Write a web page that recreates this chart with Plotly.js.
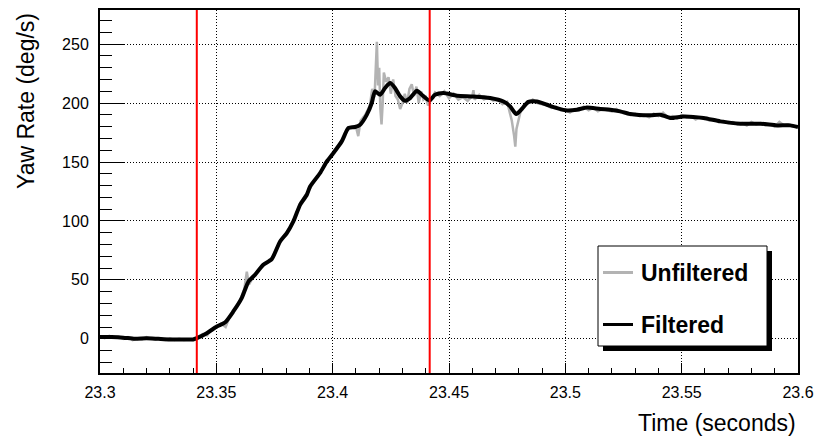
<!DOCTYPE html>
<html>
<head>
<meta charset="utf-8">
<script src="https://cdn.plot.ly/plotly-3.0.1.min.js"></script>
<style>html,body{margin:0;padding:0;background:#fff}#chart{width:815px;height:441px}</style>
</head>
<body>
<div id="chart"></div>
<script>
// ---- Data ----
var filteredTime = [23.300, 23.305, 23.310, 23.315, 23.320, 23.325, 23.330, 23.335, 23.340, 23.3416,
  23.3459, 23.3502, 23.3537, 23.3573, 23.3609, 23.3638, 23.3666, 23.3702, 23.3738, 23.3774,
  23.3803, 23.3831, 23.3860, 23.3889, 23.3903, 23.3946, 23.3975, 23.4003, 23.4039, 23.4068,
  23.4096, 23.4118, 23.4147, 23.4168, 23.4182, 23.4204, 23.4225, 23.4247, 23.4268, 23.4290,
  23.4311, 23.4333, 23.4362, 23.4383, 23.4416, 23.4440, 23.4476, 23.4534, 23.4605, 23.4677,
  23.4734, 23.4763, 23.4789, 23.4813, 23.4841, 23.4878, 23.4921, 23.4964, 23.5007, 23.5050,
  23.5093, 23.5150, 23.5193, 23.5236, 23.5279, 23.5365, 23.5408, 23.5451, 23.5508, 23.5594,
  23.5666, 23.5752, 23.5838, 23.5909, 23.5967, 23.6000];
var filteredRate = [1.5, 1.5, 1, 0, 0.5, 0, -0.5, -0.5, -0.5, 0.6,
  4.8, 10.4, 13.8, 23.2, 34.5, 48.6, 54.3, 62.8, 67.6, 82.6,
  89.7, 99.6, 113.7, 122.2, 129.3, 140.7, 150.5, 157.6, 167.5, 178.9,
  179.7, 181.7, 190.2, 200.1, 210, 207.1, 212.8, 217, 212.8, 205.7,
  202, 204.3, 210.5, 207.1, 202.3, 207.1, 208.6, 206.3, 205.7, 204.3,
  201.4, 197.2, 190.7, 195, 201, 201.4, 198.6, 195.8, 193.8, 194.4,
  196.3, 195, 194.4, 193, 190.7, 189.6, 190.2, 187.4, 188.7, 187.4,
  184.5, 182.5, 182.5, 181.1, 181.1, 179.7];

var unfilteredTime = [23.300, 23.302, 23.304, 23.306, 23.308, 23.310, 23.312, 23.314, 23.316, 23.318,
  23.320, 23.322, 23.324, 23.326, 23.328, 23.330, 23.332, 23.334, 23.336, 23.338,
  23.340, 23.342, 23.344, 23.346, 23.348, 23.350, 23.352, 23.354, 23.356, 23.358,
  23.360, 23.362, 23.3631, 23.364, 23.366, 23.368, 23.370, 23.372, 23.374, 23.376,
  23.378, 23.380, 23.382, 23.384, 23.386, 23.388, 23.390, 23.392, 23.394, 23.396,
  23.398, 23.400, 23.402, 23.404, 23.406, 23.408, 23.410, 23.411, 23.412, 23.414,
  23.416, 23.417, 23.418, 23.4185, 23.419, 23.4195, 23.420, 23.4205, 23.421, 23.4215,
  23.422, 23.423, 23.424, 23.425, 23.426, 23.427, 23.428, 23.429, 23.430, 23.431,
  23.432, 23.433, 23.434, 23.435, 23.436, 23.437, 23.438, 23.439, 23.440, 23.441,
  23.442, 23.444, 23.446, 23.448, 23.450, 23.452, 23.454, 23.456, 23.458, 23.460,
  23.4605, 23.461, 23.463, 23.465, 23.467, 23.469, 23.471, 23.473, 23.475, 23.476,
  23.477, 23.478, 23.4785, 23.479, 23.480, 23.481, 23.482, 23.484, 23.486, 23.488,
  23.490, 23.492, 23.494, 23.496, 23.498, 23.500, 23.502, 23.504, 23.506, 23.508,
  23.510, 23.512, 23.514, 23.516, 23.518, 23.520, 23.522, 23.524, 23.526, 23.528,
  23.530, 23.532, 23.534, 23.536, 23.538, 23.540, 23.542, 23.544, 23.546, 23.548,
  23.550, 23.552, 23.554, 23.556, 23.558, 23.560, 23.562, 23.564, 23.566, 23.568,
  23.570, 23.572, 23.574, 23.576, 23.578, 23.580, 23.582, 23.584, 23.586, 23.588,
  23.590, 23.592, 23.594, 23.596, 23.598, 23.600];
var unfilteredRate = [2, 0.5, 2.5, 1, 2, 0, 1.5, -1, 0.5, -0.5,
  1.5, 0, -0.5, 0.5, -1, 0.5, -1, 0, -1, -0.5,
  -1, 0.5, 4, 3, 8, 9.5, 13, 10, 20, 25,
  32, 42, 57, 46, 53, 58, 63, 65, 68, 77,
  85, 90, 95, 104, 115, 121, 127, 134, 140, 146,
  151, 157, 162, 168, 176, 180, 180, 172, 185, 190,
  198, 212, 205, 238, 252, 215, 230, 195, 182, 200,
  226, 218, 222, 208, 220, 206, 203, 195, 200, 208,
  200, 212, 216, 206, 214, 200, 210, 203, 205, 198,
  202, 209, 206, 210, 204, 208, 203, 205, 202, 206,
  211, 203, 207, 203, 205, 202, 203, 199, 201, 193,
  185, 172, 163, 178, 187, 195, 198, 200, 203, 200,
  199, 198, 196, 197, 194, 194, 192, 195, 194, 197,
  194, 196, 193, 195, 194, 193, 195, 192, 191, 190,
  191, 189, 190, 188, 191, 189, 192, 188, 189, 187,
  190, 188, 189, 186, 188, 187, 185, 186, 184, 185,
  183, 184, 182, 183, 181, 184, 182, 183, 181, 182,
  180, 184, 181, 182, 180, 180];

var markerTimes = [23.3416, 23.4417];
var xTickVals = [23.3, 23.35, 23.4, 23.45, 23.5, 23.55, 23.6];
var xTickLabels = ["23.3", "23.35", "23.4", "23.45", "23.5", "23.55", "23.6"];
var yTickVals = [0, 50, 100, 150, 200, 250];
var yTickLabels = ["0", "50", "100", "150", "200", "250"];
var seriesNames = ["Unfiltered", "Filtered"];

// ---- Styling / layout ----
var W = 815, H = 441;
var M = {l: 100, r: 17, t: 10, b: 68};
var PW = W - M.l - M.r, PH = H - M.t - M.b;
function px(x) { return (x - M.l) / PW; }
function py(y) { return (H - M.b - y) / PH; }
var FONT = "Liberation Sans, Arial, Helvetica, sans-serif";
var GRAY = "#b3b3b3", BLACK = "#000000", RED = "#ff0000";

var traces = [
  {x: unfilteredTime, y: unfilteredRate, type: "scatter", mode: "lines", name: seriesNames[0],
   line: {color: GRAY, width: 2.5}, hoverinfo: "x+y"},
  {x: filteredTime, y: filteredRate, type: "scatter", mode: "lines", name: seriesNames[1],
   line: {color: BLACK, width: 4, shape: "spline", smoothing: 0.6}, hoverinfo: "x+y"}
];

var shapes = [];
markerTimes.forEach(function (t) {
  shapes.push({type: "line", xref: "x", yref: "paper", x0: t, x1: t, y0: 0, y1: 1,
               line: {color: RED, width: 2}, layer: "above"});
});
// legend box with shadow
var LB = {x0: 598, x1: 767, y0: 246, y1: 346};
shapes.push({type: "rect", xref: "paper", yref: "paper", x0: px(LB.x0 + 5), x1: px(LB.x1 + 5),
             y0: py(LB.y1 + 5), y1: py(LB.y0 + 5), fillcolor: BLACK, line: {width: 0}, layer: "above"});
shapes.push({type: "rect", xref: "paper", yref: "paper", x0: px(LB.x0), x1: px(LB.x1),
             y0: py(LB.y1), y1: py(LB.y0), fillcolor: "#ffffff", line: {color: BLACK, width: 1}, layer: "above"});
var legendRows = [272.5, 324.5];
var legendColors = [GRAY, BLACK];
var annotations = [];
seriesNames.forEach(function (name, i) {
  shapes.push({type: "line", xref: "paper", yref: "paper", x0: px(603), x1: px(633),
               y0: py(legendRows[i]), y1: py(legendRows[i]),
               line: {color: legendColors[i], width: 3}, layer: "above"});
  annotations.push({xref: "paper", yref: "paper", x: px(639), y: py(legendRows[i]),
                    xanchor: "left", yanchor: "middle", showarrow: false, text: "<b>" + name + "</b>",
                    font: {family: FONT, size: 23, color: BLACK}});
});
annotations.push({xref: "paper", yref: "paper", x: px(798), y: py(423), xanchor: "right", yanchor: "middle",
                  showarrow: false, text: "Time (seconds)", font: {family: FONT, size: 23, color: BLACK}});
annotations.push({xref: "paper", yref: "paper", x: px(26), y: py(11), xanchor: "center", yanchor: "top",
                  textangle: -90, showarrow: false, text: "Yaw Rate (deg/s)",
                  font: {family: FONT, size: 23, color: BLACK}});

var layout = {
  width: W, height: H,
  margin: M,
  paper_bgcolor: "#ffffff", plot_bgcolor: "#ffffff",
  showlegend: false,
  font: {family: FONT, size: 16, color: BLACK},
  xaxis: {
    range: [23.3, 23.6], tickvals: xTickVals, ticktext: xTickLabels,
    ticks: "inside", ticklen: 10, tickwidth: 1, tickcolor: BLACK,
    showline: true, linewidth: 2, linecolor: BLACK, mirror: true,
    showgrid: true, gridcolor: BLACK, gridwidth: 1, griddash: "1px,2px",
    zeroline: false, ticklabelstandoff: 4,
    tickfont: {family: FONT, size: 16, color: BLACK},
    minor: {dtick: 0.01, tick0: 23.3, ticks: "inside", ticklen: 5, tickwidth: 1, tickcolor: BLACK, showgrid: false}
  },
  yaxis: {
    range: [-29, 279], tickvals: yTickVals, ticktext: yTickLabels,
    ticks: "inside", ticklen: 25, tickwidth: 1, tickcolor: BLACK,
    showline: true, linewidth: 2, linecolor: BLACK, mirror: true,
    showgrid: true, gridcolor: BLACK, gridwidth: 1, griddash: "1px,2px",
    zeroline: false, ticklabelstandoff: 6,
    tickfont: {family: FONT, size: 16, color: BLACK},
    minor: {dtick: 10, tick0: 0, ticks: "inside", ticklen: 12, tickwidth: 1, tickcolor: BLACK, showgrid: false}
  },
  shapes: shapes,
  annotations: annotations
};

Plotly.newPlot("chart", traces, layout, {displayModeBar: false, staticPlot: true});
</script>
</body>
</html>
